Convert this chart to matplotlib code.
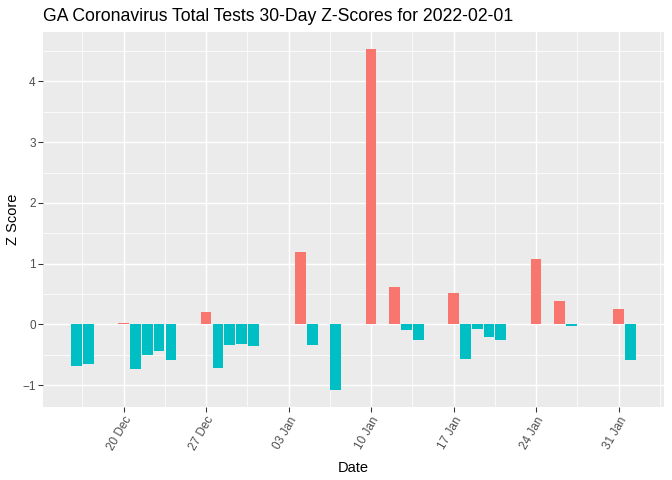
import numpy as np
import matplotlib.pyplot as plt
import matplotlib.dates as mdates
import pandas as pd

plt.rcParams['font.family'] = ['Liberation Sans', 'DejaVu Sans']

# z-scores (weekends / missing days left out)
dates = ['2021-12-16', '2021-12-17', '2021-12-20', '2021-12-21', '2021-12-22',
         '2021-12-23', '2021-12-24', '2021-12-27', '2021-12-28', '2021-12-29',
         '2021-12-30', '2021-12-31', '2022-01-04', '2022-01-05', '2022-01-07',
         '2022-01-10', '2022-01-12', '2022-01-13', '2022-01-14', '2022-01-17',
         '2022-01-18', '2022-01-19', '2022-01-20', '2022-01-21', '2022-01-24',
         '2022-01-26', '2022-01-27', '2022-01-31', '2022-02-01']
zscores = [-0.69, -0.65, 0.02, -0.74, -0.51,
           -0.43, -0.59, 0.21, -0.71, -0.34,
           -0.33, -0.36, 1.19, -0.34, -1.08,
           4.53, 0.61, -0.10, -0.26, 0.51,
           -0.57, -0.07, -0.20, -0.26, 1.07,
           0.39, -0.02, 0.26, -0.59]
tick_dates = ['2021-12-20', '2021-12-27', '2022-01-03', '2022-01-10',
              '2022-01-17', '2022-01-24', '2022-01-31']

d = mdates.date2num(pd.to_datetime(dates))
z = np.array(zscores)
cols = np.where(z > 0, '#F8766D', '#00BFC4')

fig = plt.figure(figsize=(7, 5), dpi=96)
ax = fig.add_axes([0.064, 0.152, 0.924, 0.781])
ax.set_facecolor('#EBEBEB')

ax.bar(d, z, width=0.9, color=cols, zorder=3)

# ggplot-like 5% expansion
lo, hi = d.min() - 0.45, d.max() + 0.45
pad = (hi - lo) * 0.05
ax.set_xlim(lo - pad, hi + pad)
ymin, ymax = min(0, z.min()), max(0, z.max())
ypad = (ymax - ymin) * 0.05
ax.set_ylim(ymin - ypad, ymax + ypad)

major = mdates.date2num(pd.to_datetime(tick_dates))
ax.set_xticks(major)
ax.set_xticklabels([pd.Timestamp(t).strftime('%d %b') for t in tick_dates],
                   rotation=60, ha='right', va='top', rotation_mode='anchor')
minor_x = np.concatenate([[major[0] - 3.5], major + 3.5])
ax.set_xticks(minor_x, minor=True)
ax.set_yticks(np.arange(-1, 5, 1))
ax.set_yticks(np.arange(-0.5, 5, 1), minor=True)

ax.grid(which='major', color='white', linewidth=1.1, zorder=0)
ax.grid(which='minor', color='white', linewidth=0.55, zorder=0)
ax.set_axisbelow(True)
for s in ax.spines.values():
    s.set_visible(False)
ax.tick_params(which='major', length=3.5, width=0.8, color='#333333',
               labelcolor='#4D4D4D', labelsize=8.8, pad=2)
ax.tick_params(which='minor', length=0)

ax.set_xlabel('Date', fontsize=11, labelpad=6)
ax.set_ylabel('Z Score', fontsize=11, labelpad=2)
ax.set_title('GA Coronavirus Total Tests 30-Day Z-Scores for 2022-02-01',
             fontsize=13.2, loc='left', pad=8)

fig.savefig('out.png', dpi=96)
